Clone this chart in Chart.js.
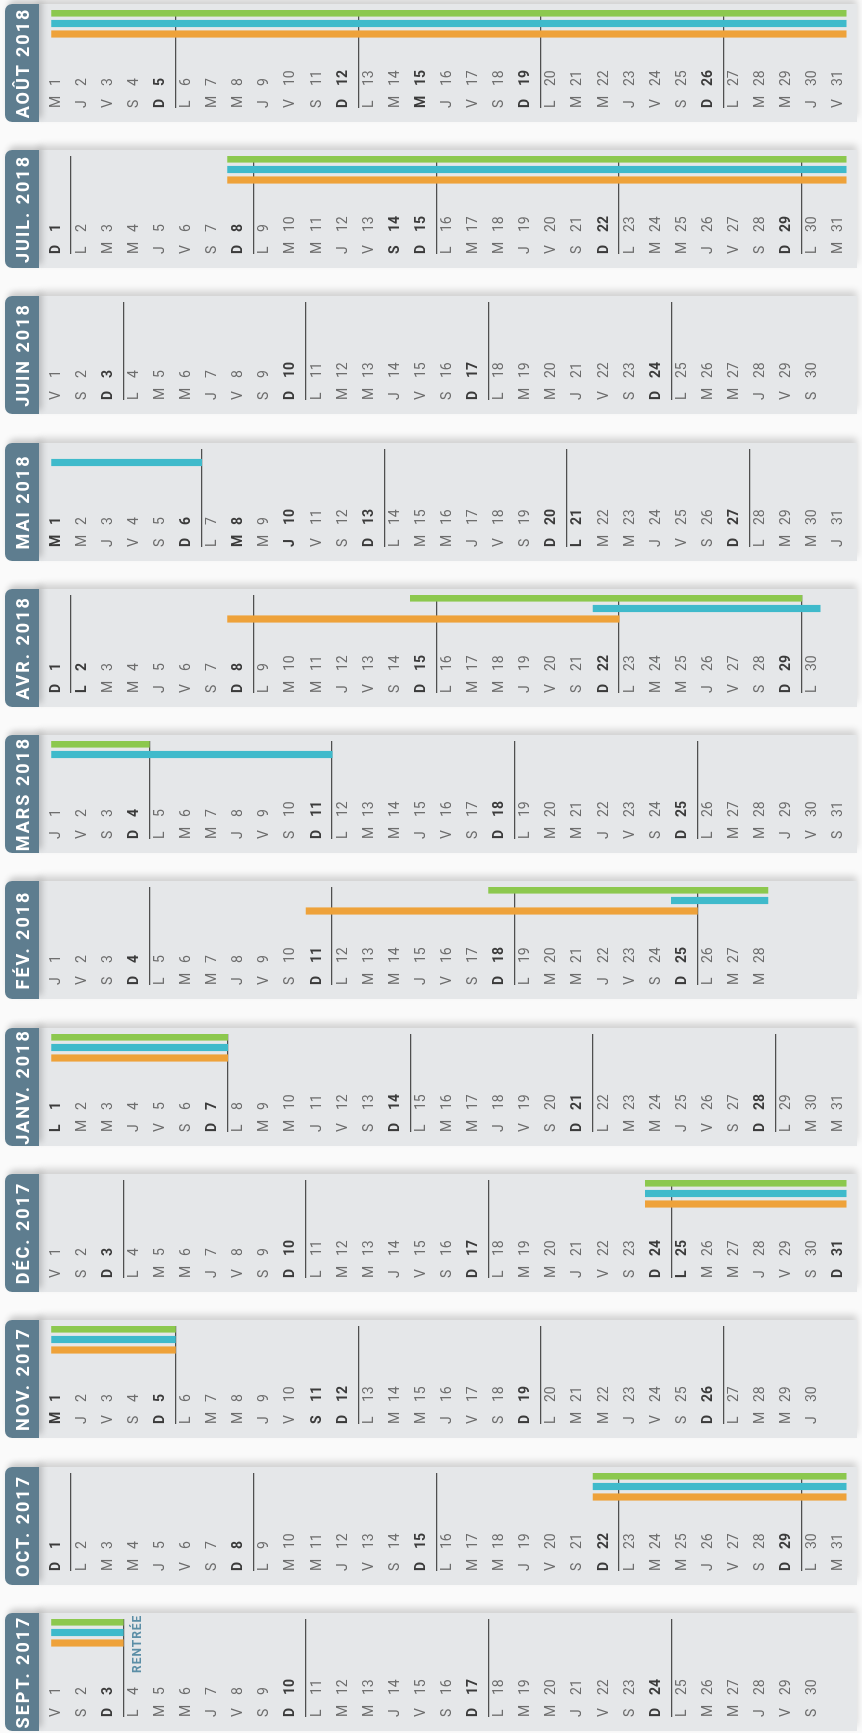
<!DOCTYPE html>
<html lang="fr">
<head>
<meta charset="utf-8">
<title>Calendrier scolaire 2017-2018</title>
<script src="https://cdn.jsdelivr.net/npm/chart.js@4.4.1/dist/chart.umd.min.js"></script>
<style>
  html, body { margin: 0; padding: 0; background: #fafafa; overflow: hidden; width: 862px; height: 1733px; }
  /* calendrier dessiné à plat puis tourné d'un quart de tour */
  #cal { position: absolute; left: 0; top: 0; width: 1733px; height: 862px;
         transform-origin: 0 0; transform: translateY(1733px) rotate(-90deg); }
  .mois { position: absolute; top: 5px; width: 118px; height: 852px; }
  .fond { position: absolute; left: 0; top: 34px; width: 118px; height: 818px; background: #e5e7e9;
          box-shadow: 5px 0 7px rgba(0,0,0,0.16); }
  .titre { position: absolute; left: 0; top: 0; width: 118px; height: 34px; background: #5e7d8f;
           border-radius: 7px 7px 0 0; color: #fff; display: flex; align-items: center; justify-content: center;
           font-family: 'Roboto', 'DejaVu Sans', sans-serif;
           font-weight: bold; font-size: 18px; letter-spacing: 2px; white-space: nowrap;
           box-shadow: 4px 3px 6px rgba(0,0,0,0.2); z-index: 2; }
  .mois canvas { position: absolute; left: 0; top: 0; z-index: 1; }
</style>
</head>
<body>
<div id="cal"></div>
<script>
const months = ['SEPT. 2017', 'OCT. 2017', 'NOV. 2017', 'DÉC. 2017', 'JANV. 2018', 'FÉV. 2018',
                'MARS 2018', 'AVR. 2018', 'MAI 2018', 'JUIN 2018', 'JUIL. 2018', 'AOÛT 2018'];
const monthDays = [30, 31, 30, 31, 31, 28, 31, 30, 31, 30, 31, 31];
// jour de la semaine du 1er (0 = lundi)
const firstWeekday = [4, 6, 2, 4, 0, 3, 3, 6, 1, 4, 6, 2];
const weekLetters = ['L', 'M', 'M', 'J', 'V', 'S', 'D'];
// jours fériés (en gras)
const holidays = [[], [], [1, 11], [25], [1], [], [], [2], [1, 8, 10, 21], [], [14], [15]];

// vacances par zone : [premier jour, dernier jour] ou null
const zoneA = [[1, 3], [22, 31], [1, 5], [24, 31], [1, 7], [11, 25], null, [8, 22], null, null, [8, 31], [1, 31]];
const zoneB = [[1, 3], [22, 31], [1, 5], [24, 31], [1, 7], [25, 28], [1, 11], [22, 30], [1, 6], null, [8, 31], [1, 31]];
const zoneC = [[1, 3], [22, 31], [1, 5], [24, 31], [1, 7], [18, 28], [1, 4], [15, 29], null, null, [8, 31], [1, 31]];

const zones = [
  { name: 'Zone A', ranges: zoneA, x: 1, color: '#eea23a' },
  { name: 'Zone B', ranges: zoneB, x: 2, color: '#3fbacb' },
  { name: 'Zone C', ranges: zoneC, x: 3, color: '#8cc84e' }
];

const rentreeMonth = 0;
const rentreeDay = 4;
const rentreeText = 'RENTRÉE';

const labelFont = "'Roboto', 'DejaVu Sans', sans-serif";

const rentreePlugin = {
  id: 'rentree',
  afterDraw(chart) {
    const { ctx, chartArea, scales } = chart;
    ctx.save();
    ctx.font = "bold 12px 'Roboto', 'DejaVu Sans', sans-serif";
    ctx.letterSpacing = '1px';
    ctx.fillStyle = '#5b8ea6';
    ctx.textBaseline = 'middle';
    ctx.fillText(rentreeText, chartArea.left + 44, scales.y.getPixelForValue(rentreeDay) + 2);
    ctx.restore();
  }
};

// les axes de jours ne prennent pas de place : leurs libellés sont dans la zone du graphique
const noSpace = s => { s.width = 0; s.paddingTop = 0; s.paddingBottom = 0; };

const cal = document.getElementById('cal');

months.forEach((name, m) => {
  const col = document.createElement('div');
  col.className = 'mois';
  col.style.left = Math.round(2 + m * 146.3) + 'px';
  col.innerHTML = '<div class="fond"></div><div class="titre">' + name + '</div>';
  const canvas = document.createElement('canvas');
  canvas.width = 118;
  canvas.height = 852;
  col.appendChild(canvas);
  cal.appendChild(col);

  const n = monthDays[m];
  const days = Array.from({ length: n }, (_, i) => i + 1);
  const weekday = d => (firstWeekday[m] + d - 1) % 7;
  const letterOf = d => weekLetters[weekday(d)];
  const isBold = d => weekday(d) === 6 || holidays[m].includes(d);
  const sundays = days.filter(d => weekday(d) === 6 && d < n);

  // les barres s'arrêtent un peu avant les bords du mois
  const barFrom = s => s === 1 ? 0.75 : s - 0.5;
  const barTo = e => e === n ? e + 0.2 : e + 0.5;

  const tickFont = c => ({ family: labelFont, size: 14,
                           weight: c.tick && isBold(c.tick.value) ? 'bold' : 'normal' });
  const tickColor = c => c.tick && isBold(c.tick.value) ? '#3b3b3b' : '#6d6d6d';

  const dayAxis = {
    type: 'linear', position: 'left', reverse: true, min: 0.5, max: 31.5,
    grid: { display: false }, border: { display: false },
    afterBuildTicks: s => { s.ticks = days.map(d => ({ value: d })); },
    afterFit: noSpace
  };

  new Chart(canvas, {
    type: 'bar',
    data: {
      datasets: zones.map(z => ({
        label: z.name,
        data: z.ranges[m] ? [{ x: z.x, y: [barFrom(z.ranges[m][0]), barTo(z.ranges[m][1])] }] : [],
        backgroundColor: z.color,
        barThickness: 6.5,
        maxBarThickness: 6.5,
        grouped: false,
        borderSkipped: false
      }))
    },
    options: {
      responsive: false,
      animation: false,
      layout: { padding: { left: 14, right: 6, top: 40, bottom: 3 } },
      plugins: { legend: { display: false }, tooltip: { enabled: false } },
      scales: {
        x: { type: 'linear', display: false, offset: false, min: -6.05, max: 3.286 },
        y: Object.assign({}, dayAxis, {
          ticks: { mirror: true, padding: 0, labelOffset: -2, autoSkip: false,
                   font: tickFont, color: tickColor, callback: v => letterOf(v) }
        }),
        yNum: Object.assign({}, dayAxis, {
          ticks: { mirror: true, padding: 22, labelOffset: -2, autoSkip: false,
                   font: tickFont, color: tickColor, callback: v => String(v) }
        }),
        yWeek: {
          type: 'linear', position: 'left', reverse: true, min: 0.5, max: 31.5,
          afterBuildTicks: s => { s.ticks = sundays.map(d => ({ value: d + 0.5 })); },
          afterFit: noSpace,
          ticks: { display: false },
          border: { display: false },
          grid: { color: '#4f4f4f', lineWidth: 1.3, drawTicks: false }
        }
      }
    },
    plugins: m === rentreeMonth ? [rentreePlugin] : []
  });
});
</script>
</body>
</html>
